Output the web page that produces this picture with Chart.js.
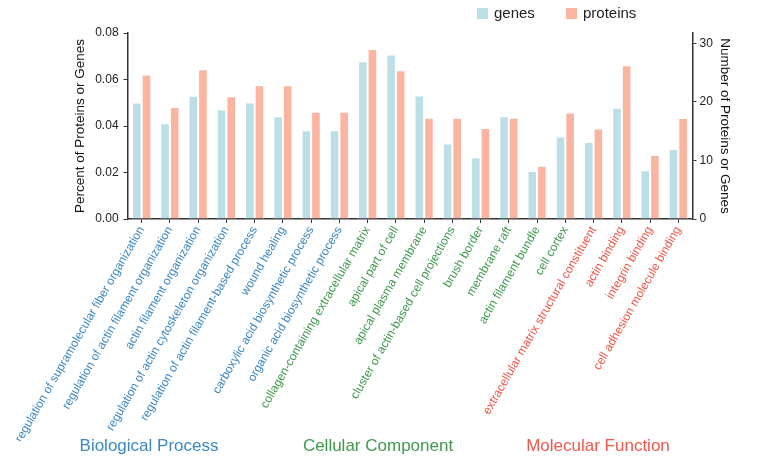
<!DOCTYPE html>
<html>
<head>
<meta charset="utf-8">
<script src="https://cdn.jsdelivr.net/npm/chart.js@4"></script>
<style>
	html, body { margin: 0; padding: 0; background: #fff; }
	#wrap { width: 771px; height: 461px; position: relative; }
</style>
</head>
<body>
<div id="wrap"><canvas id="grafico_go"></canvas></div>
<script>
const categorias = [
	'regulation of supramolecular fiber organization',
	'regulation of actin filament organization',
	'actin filament organization',
	'regulation of actin cytoskeleton organization',
	'regulation of actin filament-based process',
	'wound healing',
	'carboxylic acid biosynthetic process',
	'organic acid biosynthetic process',
	'collagen-containing extracellular matrix',
	'apical part of cell',
	'apical plasma membrane',
	'cluster of actin-based cell projections',
	'brush border',
	'membrane raft',
	'actin filament bundle',
	'cell cortex',
	'extracellular matrix structural constituent',
	'actin binding',
	'integrin binding',
	'cell adhesion molecule binding',
];

// BP = 0, CC = 1, MF = 2
const grupos = [0, 0, 0, 0, 0, 0, 0, 0, 1, 1, 1, 1, 1, 1, 1, 1, 2, 2, 2, 2];
const nombresGrupo = ['Biological Process', 'Cellular Component', 'Molecular Function'];

const genes = [
	0.0501, 0.0412, 0.0530, 0.0471, 0.0501, 0.0442, 0.0382, 0.0382,
	0.0678, 0.0708, 0.0531, 0.0325, 0.0266, 0.0442, 0.0206, 0.0355,
	0.0331, 0.0479, 0.0210, 0.0301,
];
const proteins = [
	0.0621, 0.0482, 0.0644, 0.0528, 0.0575, 0.0575, 0.0461, 0.0461,
	0.0731, 0.0640, 0.0435, 0.0435, 0.0391, 0.0435, 0.0229, 0.0458,
	0.0389, 0.0661, 0.0275, 0.0434,
];

const ticksIzq = [0, 0.02, 0.04, 0.06, 0.08];
const ticksDer = [0, 10, 20, 30];
const maxDer = 31.75;

const coloresGrupo = ['#3b88c4', '#3f9a4c', '#f0574a'];
const fuente = 'Arial, "Liberation Sans", sans-serif';

// Titulos de grupo debajo de las etiquetas
const etiquetasGrupo = {
	id: 'etiquetasGrupo',
	afterDraw(chart) {
		const ctx = chart.ctx;
		const posX = [149, 378, 598];
		ctx.save();
		ctx.font = '17px ' + fuente;
		ctx.textAlign = 'center';
		ctx.textBaseline = 'middle';
		nombresGrupo.forEach((nombre, i) => {
			ctx.fillStyle = coloresGrupo[i];
			ctx.fillText(nombre, posX[i], 446);
		});
		ctx.restore();
	},
};

// Leyenda arriba a la derecha (fuera del area del grafico)
const leyenda = {
	id: 'leyenda',
	afterDraw(chart) {
		const ctx = chart.ctx;
		const posX = [477, 566];
		ctx.save();
		ctx.font = '15px ' + fuente;
		ctx.textBaseline = 'middle';
		chart.data.datasets.forEach((ds, i) => {
			ctx.fillStyle = ds.backgroundColor;
			ctx.fillRect(posX[i], 8, 11, 11);
			ctx.fillStyle = '#222';
			ctx.fillText(ds.label, posX[i] + 17, 14);
		});
		ctx.restore();
	},
};

const ctx = document.getElementById('grafico_go').getContext('2d');

new Chart(ctx, {
	type: 'bar',
	data: {
		labels: categorias,
		datasets: [
			{
				label: 'genes',
				data: genes,
				backgroundColor: '#bcdfe7',
				borderColor: '#ffffff',
				borderWidth: 1,
				categoryPercentage: 0.68,
				barPercentage: 1,
			},
			{
				label: 'proteins',
				data: proteins,
				backgroundColor: '#fbb4a0',
				borderColor: '#ffffff',
				borderWidth: 1,
				categoryPercentage: 0.68,
				barPercentage: 1,
			},
		],
	},
	options: {
		responsive: true,
		maintainAspectRatio: false,
		animation: false,
		layout: { padding: { left: 70, right: 37, top: 33, bottom: 20 } },
		plugins: {
			legend: { display: false },
			tooltip: { enabled: false },
		},
		scales: {
			x: {
				// alto fijo para que las etiquetas giradas no se recorten
				afterFit: (s) => {
					s.height = 222;
					s.paddingLeft = 0;
					s.paddingRight = 0;
				},
				grid: {
					offset: false,
					drawOnChartArea: false,
					drawTicks: true,
					tickLength: 4,
					color: '#333',
				},
				border: { display: true, color: '#333', width: 1.5 },
				ticks: {
					autoSkip: false,
					maxRotation: 60,
					minRotation: 60,
					padding: 1,
					font: { family: fuente, size: 12 },
					color: (c) => coloresGrupo[grupos[c.index]],
				},
			},
			y: {
				position: 'left',
				min: 0,
				max: 0.08,
				afterBuildTicks: (s) => { s.ticks = ticksIzq.map((v) => ({ value: v })); },
				grid: { drawOnChartArea: false, tickLength: 4, color: '#333' },
				border: { display: true, color: '#333', width: 1.5 },
				ticks: {
					color: '#222',
					padding: 5,
					font: { family: fuente, size: 12 },
					callback: (v) => v.toFixed(2),
				},
				title: {
					display: true,
					text: 'Percent of Proteins or Genes',
					color: '#111',
					font: { family: fuente, size: 13.5 },
					padding: 2,
				},
			},
			y1: {
				position: 'right',
				min: 0,
				max: maxDer,
				afterBuildTicks: (s) => { s.ticks = ticksDer.map((v) => ({ value: v })); },
				grid: { drawOnChartArea: false, tickLength: 4, color: '#333' },
				border: { display: true, color: '#333', width: 1.5 },
				ticks: {
					color: '#222',
					font: { family: fuente, size: 12 },
				},
				title: {
					display: true,
					text: 'Number of Proteins or Genes',
					color: '#111',
					font: { family: fuente, size: 13.5 },
					padding: 1,
				},
			},
		},
	},
	plugins: [etiquetasGrupo, leyenda],
});
</script>
</body>
</html>
